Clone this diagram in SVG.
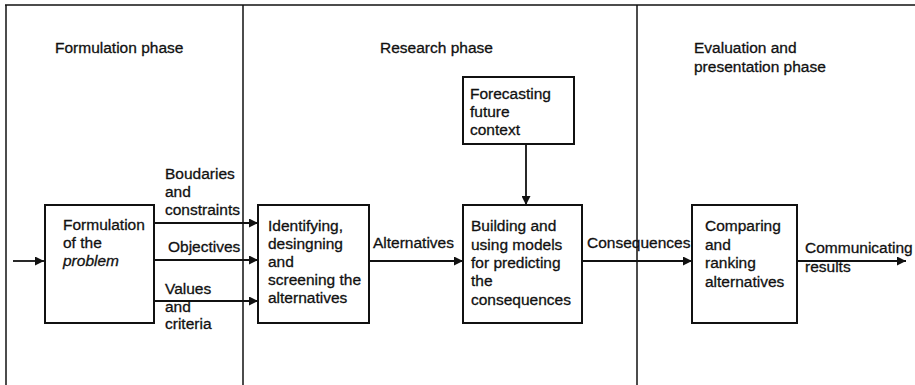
<svg xmlns="http://www.w3.org/2000/svg" width="915" height="385" viewBox="0 0 915 385">
<style>
text{font-family:"Liberation Sans",Arial,sans-serif;font-size:15.5px;fill:#111;stroke:#111;stroke-width:0.3}
.box{fill:#fff;stroke:#111;stroke-width:2}
.frame{stroke:#111;stroke-width:1.5;fill:none}
.conn{stroke:#111;stroke-width:1.8;fill:none;marker-end:url(#ah)}
</style>
<defs>
<marker id="ah" viewBox="0 0 10 10" refX="10" refY="5" markerWidth="9" markerHeight="9" markerUnits="userSpaceOnUse" orient="auto">
<path d="M0,0 L10,5 L0,10 z" fill="#111"/>
</marker>
</defs>
<rect width="915" height="385" fill="#fff"/>
<g id="frame">
<line class="frame" x1="5" y1="5" x2="915" y2="5"/>
<line class="frame" x1="6" y1="5" x2="6" y2="385"/>
<line class="frame" x1="243" y1="5" x2="243" y2="385"/>
<line class="frame" x1="637" y1="5" x2="637" y2="385"/>
</g>
<g id="phases">
<text x="55" y="53">Formulation phase</text>
<text x="380" y="53">Research phase</text>
<text x="694" y="53">Evaluation and</text>
<text x="694" y="72">presentation phase</text>
</g>
<g id="connectors">
<line class="conn" x1="13" y1="261" x2="44" y2="261"/>
<line class="conn" x1="154" y1="223" x2="258" y2="223"/>
<line class="conn" x1="154" y1="260" x2="258" y2="260"/>
<line class="conn" x1="154" y1="301" x2="258" y2="301" stroke-width="2.4"/>
<line class="conn" x1="369" y1="261" x2="463" y2="261"/>
<line class="conn" x1="526" y1="144" x2="526" y2="205"/>
<line class="conn" x1="582" y1="261" x2="692" y2="261"/>
<line class="conn" x1="797" y1="261" x2="906" y2="261"/>
</g>
<g id="labels">
<text x="165" y="179">Boudaries</text>
<text x="165" y="197">and</text>
<text x="165" y="215">constraints</text>
<text x="168" y="252">Objectives</text>
<text x="165" y="294">Values</text>
<text x="165" y="312">and</text>
<text x="165" y="329">criteria</text>
<text x="373" y="248">Alternatives</text>
<text x="587" y="248">Consequences</text>
<text x="805" y="253">Communicating</text>
<text x="805" y="272">results</text>
</g>
<g id="n-formulation">
<rect class="box" x="45" y="205" width="109" height="118"/>
<text x="63" y="230">Formulation</text>
<text x="63" y="248">of the</text>
<text x="63" y="266" font-style="italic">problem</text>
</g>
<g id="n-identifying">
<rect class="box" x="258" y="205" width="111" height="118"/>
<text x="268" y="231">Identifying,</text>
<text x="268" y="249">desingning</text>
<text x="268" y="267">and</text>
<text x="268" y="285">screening the</text>
<text x="268" y="303">alternatives</text>
</g>
<g id="n-forecasting">
<rect class="box" x="463" y="77" width="111" height="67"/>
<text x="470" y="99">Forecasting</text>
<text x="470" y="117">future</text>
<text x="470" y="135">context</text>
</g>
<g id="n-building">
<rect class="box" x="463" y="205" width="119" height="118"/>
<text x="471" y="231">Building and</text>
<text x="471" y="250">using models</text>
<text x="471" y="268">for predicting</text>
<text x="471" y="286">the</text>
<text x="471" y="305">consequences</text>
</g>
<g id="n-comparing">
<rect class="box" x="692" y="205" width="105" height="118"/>
<text x="705" y="231">Comparing</text>
<text x="705" y="250">and</text>
<text x="705" y="268">ranking</text>
<text x="705" y="287">alternatives</text>
</g>
</svg>
